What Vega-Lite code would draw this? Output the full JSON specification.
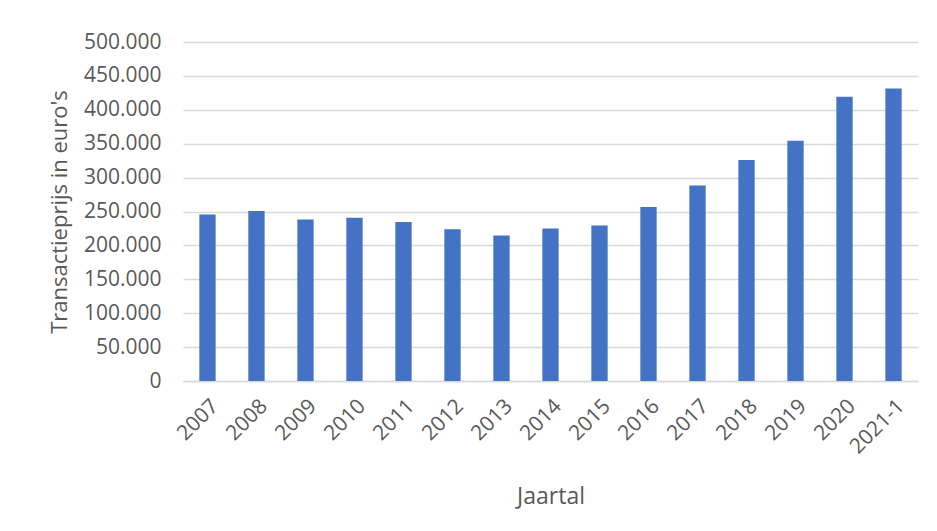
{
  "$schema": "https://vega.github.io/schema/vega-lite/v6.json",
  "width": 735,
  "height": 339,
  "autosize": {"type": "none"},
  "padding": {"left": 183, "top": 42, "right": 19, "bottom": 150},
  "background": "white",
  "config": {
    "locale": {"number": {"decimal": ",", "thousands": ".", "grouping": [3], "currency": ["€", ""]}},
    "view": {"stroke": null},
    "font": "Open Sans"
  },
  "data": {
    "values": [
      {"jaar": "2007", "prijs": 245400},
      {"jaar": "2008", "prijs": 250900},
      {"jaar": "2009", "prijs": 238100},
      {"jaar": "2010", "prijs": 240600},
      {"jaar": "2011", "prijs": 234600},
      {"jaar": "2012", "prijs": 223800},
      {"jaar": "2013", "prijs": 214500},
      {"jaar": "2014", "prijs": 224800},
      {"jaar": "2015", "prijs": 229200},
      {"jaar": "2016", "prijs": 256800},
      {"jaar": "2017", "prijs": 288200},
      {"jaar": "2018", "prijs": 326000},
      {"jaar": "2019", "prijs": 354500},
      {"jaar": "2020", "prijs": 419400},
      {"jaar": "2021-1", "prijs": 431600}
    ]
  },
  "mark": {"type": "bar", "color": "#4472C4"},
  "encoding": {
    "x": {
      "field": "jaar",
      "type": "ordinal",
      "sort": null,
      "scale": {"paddingInner": 0.667, "paddingOuter": 0.333},
      "axis": {
        "title": "Jaartal",
        "titleFontSize": 23,
        "titleFontWeight": "normal",
        "titleColor": "#595959",
        "titlePadding": 28,
        "labelAngle": -45,
        "labelFontSize": 21,
        "labelColor": "#595959",
        "labelPadding": 14,
        "ticks": false,
        "domainColor": "#d9d9d9",
        "domainWidth": 1.5
      }
    },
    "y": {
      "field": "prijs",
      "type": "quantitative",
      "scale": {"domain": [0, 500000]},
      "axis": {
        "title": "Transactieprijs in euro's",
        "titleFontSize": 22,
        "titleFontWeight": "normal",
        "titleColor": "#595959",
        "titlePadding": 12,
        "format": ",d",
        "values": [0, 50000, 100000, 150000, 200000, 250000, 300000, 350000, 400000, 450000, 500000],
        "labelFontSize": 21,
        "labelColor": "#595959",
        "labelPadding": 22,
        "ticks": false,
        "domain": false,
        "gridColor": "#d9d9d9",
        "gridWidth": 1.5
      }
    }
  }
}
